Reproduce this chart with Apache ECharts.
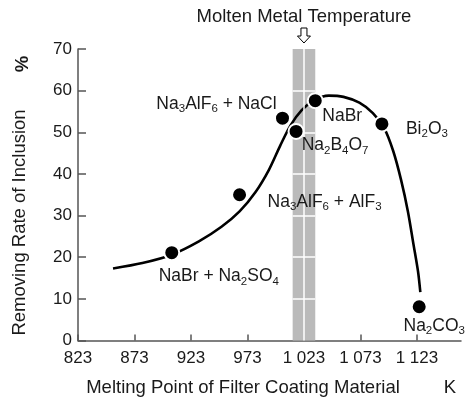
<!DOCTYPE html>
<html><head><meta charset="utf-8">
<script src="https://cdn.jsdelivr.net/npm/echarts@6/dist/echarts.min.js"></script>
<style>html,body{margin:0;padding:0;background:#fff}#c{width:470px;height:400px}</style>
</head><body><div id="c"></div>
<script>
// ---- data ----
const materialLabels = ['NaBr + Na{s|2}SO{s|4}', 'Na{s|3}AlF{s|6} + AlF{s|3}', 'Na{s|3}AlF{s|6} + NaCl', 'Na{s|2}B{s|4}O{s|7}', 'NaBr', 'Bi{s|2}O{s|3}', 'Na{s|2}CO{s|3}'];
const meltingPoints = [906, 966, 1004, 1016, 1033, 1092, 1125];
const removingRates = [21.1, 35.0, 53.4, 50.2, 57.6, 52.0, 8.1];
const curveX = [854, 880, 906, 930, 950, 966, 980, 992, 1002, 1011, 1021, 1032, 1045, 1058, 1072, 1084, 1094, 1102, 1109, 1115, 1120, 1124, 1126];
const curveY = [17.3, 18.6, 20.6, 23.8, 27.3, 31.0, 35.6, 41.0, 46.8, 51.6, 55.3, 57.7, 58.8, 58.5, 57.1, 54.6, 51.0, 45.5, 38.5, 31.0, 23.0, 16.5, 11.6];
const xTicks = [823, 873, 923, 973, 1023, 1073, 1123];
const yTicks = [0, 10, 20, 30, 40, 50, 60, 70];
const moltenBand = [1013, 1033];
const moltenTemp = 1023;

// ---- styling (not data) ----
const labelOffsets = [[47, 24], [85, 7], [-66, -14], [39, 14], [27, 16], [45, 5], [15, 19]];
const FONT = "'Liberation Sans', Arial, sans-serif";
const TXT = '#1a1a1a';
const AXIS = '#555';

const chart = echarts.init(document.getElementById('c'), null, {renderer: 'canvas'});

const scatterData = meltingPoints.map((x, i) => ({
  value: [x, removingRates[i]],
  label: {
    show: true,
    position: 'inside',
    offset: labelOffsets[i],
    formatter: materialLabels[i],
    color: TXT,
    fontFamily: FONT,
    fontSize: 17.5,
    rich: {
      s: {fontSize: 11.5, fontFamily: FONT, color: TXT, verticalAlign: 'bottom', lineHeight: 12, padding: [0, 0, 0, 0]}
    },
    lineHeight: 22
  }
}));

const gridWhite = [];
yTicks.filter(v => v > 0 && v < 70).forEach(v => {
  gridWhite.push([{coord: [moltenBand[0], v]}, {coord: [moltenBand[1], v]}]);
});
gridWhite.push([{coord: [moltenTemp, 0]}, {coord: [moltenTemp, yTicks[yTicks.length - 1]]}]);

chart.setOption({
  animation: false,
  backgroundColor: '#fff',
  grid: {left: 78, right: 9, top: 49, bottom: 59.5, containLabel: false},
  xAxis: {
    type: 'value', min: 823, max: 1162,
    axisLine: {show: true, lineStyle: {color: AXIS, width: 1.5}},
    axisTick: {show: true, inside: true, length: 6, customValues: xTicks, lineStyle: {color: AXIS, width: 1.5}},
    axisLabel: {show: true, customValues: xTicks, color: TXT, fontFamily: FONT, fontSize: 17, margin: 9,
      formatter: v => { const s = String(Math.round(v)); return s.length > 3 ? s.slice(0, s.length - 3) + ' ' + s.slice(-3) : s; }},
    splitLine: {show: false}
  },
  yAxis: {
    type: 'value', min: 0, max: 70, interval: 10,
    axisLine: {show: true, lineStyle: {color: AXIS, width: 1.5}},
    axisTick: {show: true, inside: true, length: 8, lineStyle: {color: AXIS, width: 1.5}},
    axisLabel: {color: TXT, fontFamily: FONT, fontSize: 17, margin: 6},
    splitLine: {show: false}
  },
  series: [
    {
      type: 'line', data: [], z: 1, silent: true,
      markArea: {silent: true, itemStyle: {color: '#bababa'}, data: [[{coord: [moltenBand[0], 0]}, {coord: [moltenBand[1], 70]}]]},
      markLine: {silent: true, symbol: 'none', label: {show: false}, lineStyle: {color: '#fff', width: 1.5, type: 'solid'}, data: gridWhite}
    },
    {
      type: 'line', z: 3, smooth: 0.3, showSymbol: false, silent: true,
      data: curveX.map((x, i) => [x, curveY[i]]),
      lineStyle: {color: '#000', width: 2.6}
    },
    {
      type: 'scatter', z: 5, symbol: 'circle', symbolSize: 15,
      itemStyle: {color: '#000', borderColor: '#fff', borderWidth: 2, opacity: 1},
      data: scatterData
    }
  ]
});

const tipPt = chart.convertToPixel({gridIndex: 0}, [moltenTemp, 70]);
const cx = tipPt[0], plotTop = tipPt[1];
chart.setOption({
  graphic: [
    {type: 'text', x: cx, y: plotTop - 32, style: {text: 'Molten Metal Temperature', fill: TXT, font: '18.5px ' + FONT, textAlign: 'center', textVerticalAlign: 'middle'}},
    {type: 'polygon', shape: {points: [[cx - 3, plotTop - 21], [cx + 3, plotTop - 21], [cx + 3, plotTop - 13], [cx + 6.5, plotTop - 13], [cx, plotTop - 6], [cx - 6.5, plotTop - 13], [cx - 3, plotTop - 13]]},
      style: {fill: '#fff', stroke: '#000', lineWidth: 1}},
    {type: 'text', x: 243, y: 388, style: {text: 'Melting Point of Filter Coating Material', fill: TXT, font: '18.5px ' + FONT, textAlign: 'center', textVerticalAlign: 'middle'}},
    {type: 'text', x: 450, y: 388, style: {text: 'K', fill: TXT, font: '18.5px ' + FONT, textAlign: 'center', textVerticalAlign: 'middle'}},
    {type: 'text', x: 20, y: 222.5, rotation: Math.PI / 2, style: {text: 'Removing Rate of Inclusion', fill: TXT, font: '18.5px ' + FONT, textAlign: 'center', textVerticalAlign: 'middle'}},
    {type: 'text', x: 23, y: 64, rotation: Math.PI / 2, style: {text: '%', fill: TXT, font: 'bold 18.5px ' + FONT, textAlign: 'center', textVerticalAlign: 'middle'}}
  ]
});
</script>
</body></html>
